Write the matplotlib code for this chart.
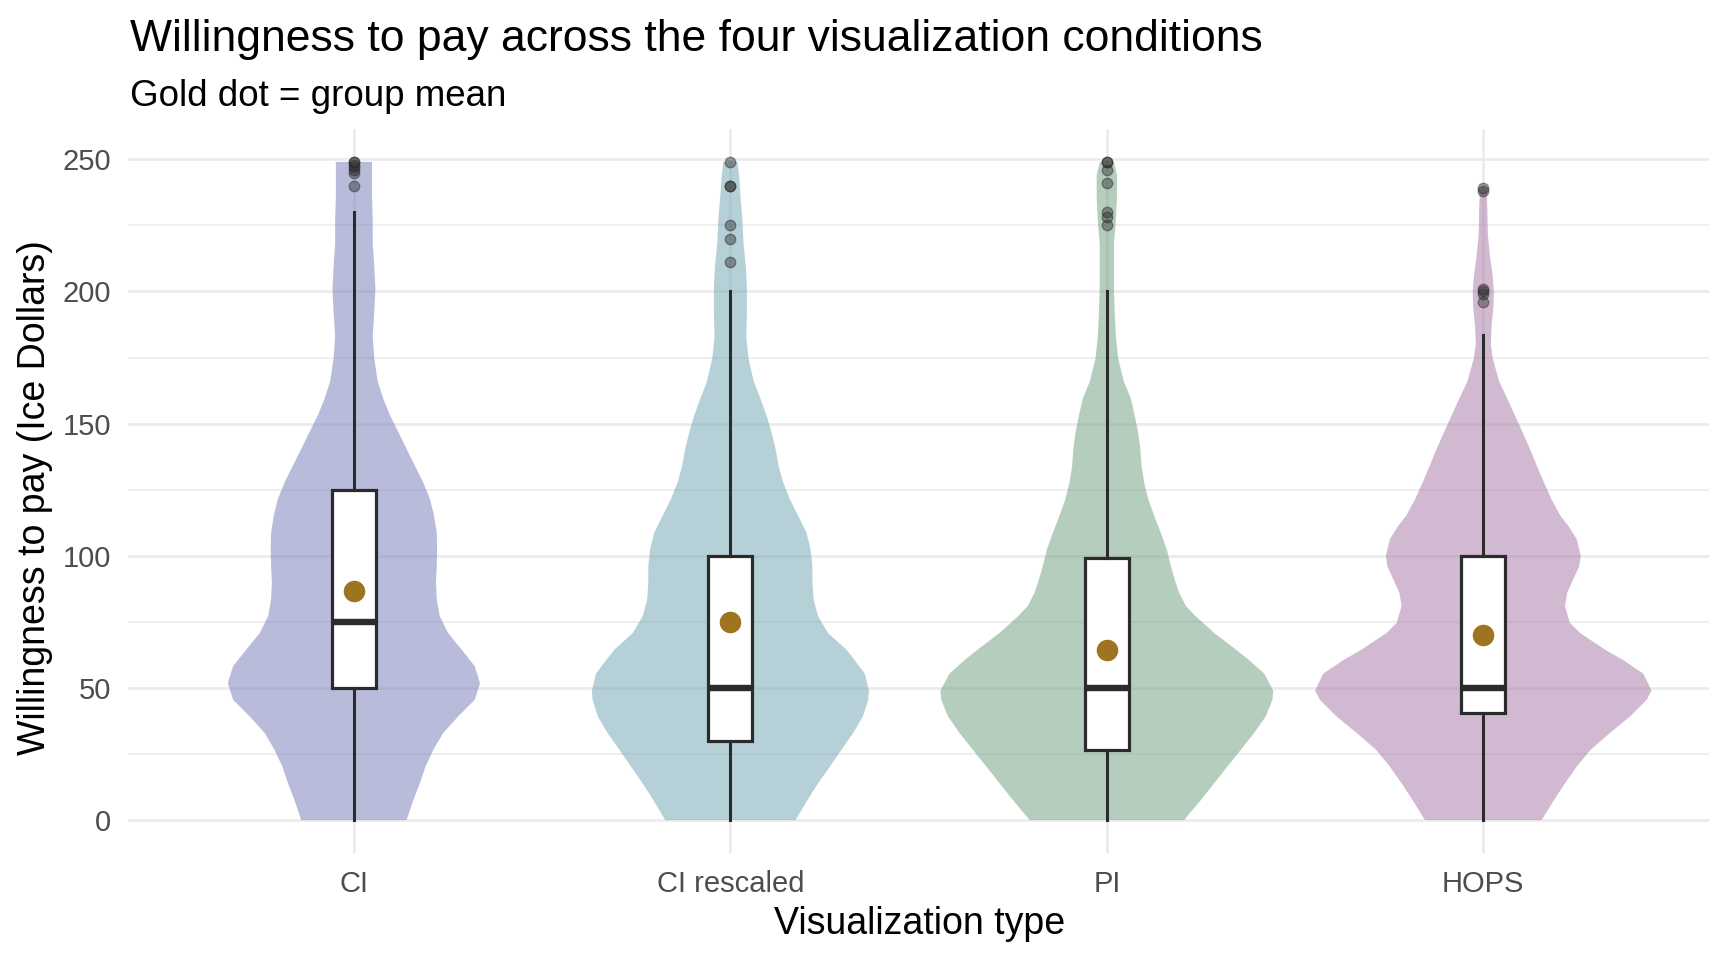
"""Willingness to pay violin chart"""
import matplotlib.pyplot as plt

plt.rcParams['font.family'] = ['Liberation Sans', 'DejaVu Sans']

# data
conditions = ['CI', 'CI rescaled', 'PI', 'HOPS']
fill_colors = ['#737BB7', '#6DA3AF', '#6B9D7D', '#A575A7']

# violin outline: y values and half-width (in category units) at each y
ci_y = [0, 7.6, 13.9, 20.2, 26.6, 32.9, 39.2, 45.5, 51.8, 58.2,
        64.5, 70.8, 77.1, 83.5, 89.8, 96.1, 102.5, 108.8, 115.1, 121.4,
        127.8, 134.1, 140.4, 146.8, 153.1, 159.4, 166, 174.7, 183, 192,
        201, 209.5, 218, 227, 235.7, 249]
ci_w = [0.140, 0.158, 0.175, 0.19, 0.211, 0.237, 0.277, 0.321, 0.335, 0.321,
        0.286, 0.25, 0.228, 0.22, 0.218, 0.22, 0.221, 0.22, 0.213, 0.202,
        0.184, 0.162, 0.14, 0.118, 0.096, 0.078, 0.063, 0.054, 0.05, 0.054,
        0.057, 0.054, 0.05, 0.05, 0.048, 0.048]

cir_y = [0, 7.6, 13.9, 20.2, 26.6, 32.9, 39.2, 45.5, 49, 55.4,
         60.5, 64.5, 70.8, 77.1, 83.5, 89.8, 96.1, 102.5, 108.8, 115.1,
         121.4, 127.8, 134.1, 140.4, 146.8, 153.1, 159.4, 166, 174.7, 183,
         192, 201, 209.5, 218, 227, 235.7, 244, 248.8, 249.5]
cir_w = [0.173, 0.205, 0.233, 0.264, 0.295, 0.326, 0.352, 0.366, 0.368, 0.357,
         0.33, 0.308, 0.259, 0.233, 0.221, 0.218, 0.218, 0.213, 0.202, 0.18,
         0.158, 0.14, 0.128, 0.12, 0.109, 0.096, 0.08, 0.062, 0.048, 0.042,
         0.044, 0.044, 0.041, 0.035, 0.032, 0.027, 0.023, 0.019, 0.008]

pi_y = [0, 7.6, 13.9, 20.2, 26.6, 32.9, 39.2, 45.5, 49, 55.4,
        60.5, 64.5, 70.8, 77.1, 81, 86, 89.8, 96.1, 102.5, 108.8,
        115.1, 121.4, 127.8, 134.1, 140.4, 146.8, 153.1, 159.4, 166, 174.7,
        183, 192, 201, 209.5, 218, 227, 235.7, 244, 248.8, 249.5]
pi_w = [0.205, 0.25, 0.285, 0.32, 0.356, 0.391, 0.422, 0.44, 0.442, 0.418,
        0.378, 0.343, 0.285, 0.236, 0.21, 0.192, 0.183, 0.17, 0.159, 0.143,
        0.126, 0.11, 0.099, 0.092, 0.089, 0.083, 0.074, 0.064, 0.045, 0.03,
        0.024, 0.021, 0.019, 0.019, 0.019, 0.024, 0.027, 0.027, 0.019, 0.008]

hops_y = [0, 7.6, 13.9, 20.2, 26.6, 32.9, 39.2, 45.5, 49, 55.4,
          60.5, 64.5, 70.8, 74.6, 81, 86, 89.8, 96.1, 99.9, 106.3,
          111.3, 115.1, 121.4, 127.8, 134.1, 140.4, 146.8, 153.1, 159.4, 166,
          174.7, 180, 187, 194, 200, 206, 213, 221.8, 230.5, 238.3, 239.5]
hops_w = [0.155, 0.188, 0.217, 0.248, 0.285, 0.336, 0.39, 0.434, 0.447, 0.425,
          0.372, 0.323, 0.257, 0.23, 0.217, 0.223, 0.235, 0.255, 0.259, 0.248,
          0.226, 0.205, 0.181, 0.161, 0.142, 0.124, 0.104, 0.084, 0.064, 0.042,
          0.025, 0.02, 0.022, 0.027, 0.028, 0.025, 0.018, 0.012, 0.011, 0.009,
          0.004]

violin_y = [ci_y, cir_y, pi_y, hops_y]
violin_w = [ci_w, cir_w, pi_w, hops_w]

# box plot statistics
q1 = [50, 30, 26.5, 40.5]
medians = [75, 50, 50, 50]
q3 = [125, 100, 99, 100]
whisker_lo = [0, 0, 0, 0]
whisker_hi = [230, 200, 200, 183.5]
means = [86.6, 74.8, 64.5, 70]
outliers = [
    [240, 245, 246, 247, 248, 249, 249],
    [211, 220, 225, 240, 240, 249],
    [225, 228, 230, 241, 246, 249, 249],
    [196, 199, 200, 201, 238, 239],
]

fig = plt.figure(figsize=(17.28, 9.6), dpi=100)
ax = fig.add_axes([0.0741, 0.1115, 0.915, 0.7541])

positions = [1, 2, 3, 4]
for pos, ys, ws, col in zip(positions, violin_y, violin_w, fill_colors):
    ax.fill_betweenx(ys, [pos - w for w in ws], [pos + w for w in ws],
                     facecolor=col, alpha=0.5, linewidth=0, zorder=2)

stats = []
for i, name in enumerate(conditions):
    stats.append({'label': name, 'q1': q1[i], 'med': medians[i], 'q3': q3[i],
                  'whislo': whisker_lo[i], 'whishi': whisker_hi[i],
                  'mean': means[i], 'fliers': outliers[i]})

box_color = '#2b2b2b'
ax.bxp(stats, positions=positions, widths=0.117, patch_artist=True,
       showmeans=True, showcaps=False, manage_ticks=False,
       boxprops=dict(facecolor='white', edgecolor=box_color, linewidth=2.3),
       medianprops=dict(color=box_color, linewidth=4.6),
       whiskerprops=dict(color=box_color, linewidth=2.2),
       flierprops=dict(marker='o', markersize=7.5, markerfacecolor='#333333',
                       markeredgecolor='#222222', alpha=0.45),
       meanprops=dict(marker='o', markersize=15.5, markerfacecolor='#9E7420',
                      markeredgecolor='none'),
       zorder=3)

ax.set_xlim(0.4, 4.6)
ax.set_ylim(-12.45, 261.45)
ax.set_xticks(positions)
ax.set_xticklabels(conditions)
ax.set_yticks([0, 50, 100, 150, 200, 250])
ax.set_yticks([25, 75, 125, 175, 225], minor=True)
ax.tick_params(axis='both', which='both', length=0, labelsize=21,
               labelcolor='#4D4D4D', pad=12)
ax.grid(True, which='major', color='#EBEBEB', linewidth=1.9)
ax.grid(True, which='minor', axis='y', color='#EBEBEB', linewidth=1.1)
ax.set_axisbelow(True)
for side in ax.spines.values():
    side.set_visible(False)

fig.text(0.0752, 0.947, 'Willingness to pay across the four visualization conditions',
         fontsize=32, va='baseline', ha='left')
fig.text(0.0752, 0.8896, 'Gold dot = group mean', fontsize=26.5, va='baseline', ha='left')
fig.text(0.0203, 0.482, 'Willingness to pay (Ice Dollars)', fontsize=27,
         rotation=90, va='center', ha='center')
fig.text(0.532, 0.0375, 'Visualization type', fontsize=27, va='center', ha='center')

fig.savefig('out.png', dpi=100)
